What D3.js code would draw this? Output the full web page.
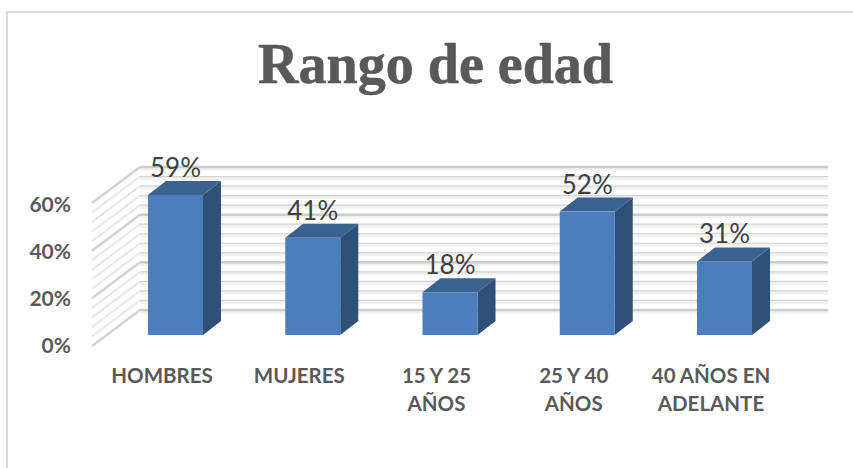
<!DOCTYPE html>
<html lang="en">
<head>
<meta charset="UTF-8">
<title>Rango de edad</title>
<script src="https://d3js.org/d3.v7.min.js"></script>
<style>
  body { margin: 0; background: #fff; }
  svg { display: block; }
</style>
</head>
<body>
<script>
var categories = [["HOMBRES"], ["MUJERES"], ["15 Y 25", "AÑOS"], ["25 Y 40", "AÑOS"], ["40 AÑOS EN", "ADELANTE"]];
var values = [59, 41, 18, 52, 31];
var majorTicks = [0, 20, 40, 60];
var minorTicks = [4, 8, 12, 16, 24, 28, 32, 36, 44, 48, 52, 56];

var width = 853, height = 468;
var svg = d3.select("body").append("svg").attr("width", width).attr("height", height);

// chart frame, only top and left show in the picture
svg.append("path").attr("d", "M7,468V12H853").attr("fill", "none").attr("stroke", "#d9d9d9").attr("stroke-width", 2);

svg.append("text").attr("x", 258).attr("y", 83)
  .attr("textLength", 355).attr("lengthAdjust", "spacingAndGlyphs")
  .style("font-family", "Liberation Serif").style("font-weight", "bold").style("font-size", "58px")
  .attr("fill", "#595959").attr("stroke", "#595959").attr("stroke-width", 0.6).text("Rango de edad");

// planes of the fake 3d box
var yBack = d3.scaleLinear().domain([0, 60]).range([310, 167]);
var yFront = d3.scaleLinear().domain([0, 60]).range([346, 203]);
var yBar = d3.scaleLinear().domain([0, 60]).range([335, 192.6]);
var yTick = d3.scaleLinear().domain([0, 60]).range([352.5, 212]);
var x = d3.scalePoint().domain(d3.range(values.length)).range([148, 697]);
var barW = 55, dx = 18, dy = 14;
var wallL = 140, wallR = 828, sideL = 92;

function gridLine(v, major) {
  var g = svg.append("g");
  // soft band under each wall line
  g.append("path")
    .attr("d", "M" + wallL + "," + (yBack(v) + 1.5) + "H" + wallR)
    .attr("fill", "none").attr("stroke", "#f1f1f1").attr("stroke-width", 4);
  g.append("path")
    .attr("d", "M" + wallL + "," + yBack(v) + "H" + wallR)
    .attr("fill", "none").attr("stroke", major ? "#cdcdcd" : "#d4d4d4").attr("stroke-width", major ? 2.5 : 1.2);
  g.append("path")
    .attr("d", "M" + sideL + "," + yFront(v) + "L" + wallL + "," + yBack(v))
    .attr("fill", "none").attr("stroke", major ? "#d2d2d2" : "#e8e8e8").attr("stroke-width", major ? 2.5 : 2);
}
minorTicks.forEach(function (v) { gridLine(v, false); });
majorTicks.forEach(function (v) { gridLine(v, true); });

function poly(pts) {
  return "M" + pts.map(function (p) { return p[0] + "," + p[1]; }).join("L") + "Z";
}

values.forEach(function (v, i) {
  var x0 = x(i), x1 = x0 + barW, top = yBar(v), base = yBar(0);
  var g = svg.append("g");
  g.append("path").attr("d", poly([[x1, top], [x1 + dx, top - dy], [x1 + dx, base - dy], [x1, base]])).attr("fill", "#2f5077");
  g.append("path").attr("d", poly([[x0, top], [x0 + dx, top - dy], [x1 + dx, top - dy], [x1, top]])).attr("fill", "#3a6291");
  g.append("rect").attr("x", x0).attr("y", top).attr("width", barW).attr("height", base - top).attr("fill", "#4c7ebb");

  svg.append("text").attr("x", x0 + 27.5).attr("y", top - 18).attr("text-anchor", "middle")
    .style("font-family", "Lato").style("font-size", "26px").attr("fill", "#404040").text(v + "%");

  var label = svg.append("text").attr("text-anchor", "middle")
    .style("font-family", "Lato").style("font-weight", "bold").style("font-size", "20.5px").attr("fill", "#595959");
  categories[i].forEach(function (t, k) {
    label.append("tspan").attr("x", x0 + 14).attr("y", 382.5 + k * 28).text(t);
  });
});

majorTicks.forEach(function (v) {
  svg.append("text").attr("x", 71).attr("y", yTick(v)).attr("text-anchor", "end")
    .style("font-family", "Lato").style("font-weight", "bold").style("font-size", "21px")
    .attr("fill", "#595959").text(v + "%");
});
</script>
</body>
</html>
